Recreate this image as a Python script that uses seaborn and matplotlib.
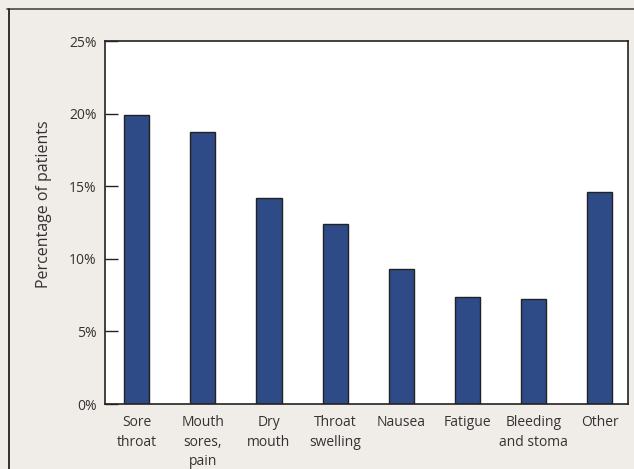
import matplotlib
matplotlib.use("Agg")
import matplotlib.pyplot as plt
from matplotlib.lines import Line2D
from matplotlib.ticker import FuncFormatter
import pandas as pd
import seaborn as sns

categories = ["Sore\nthroat", "Mouth\nsores,\npain", "Dry\nmouth", "Throat\nswelling",
              "Nausea", "Fatigue", "Bleeding\nand stoma", "Other"]
percent_patients = [19.9, 18.7, 14.2, 12.4, 9.3, 7.4, 7.2, 14.6]
y_ticks = [0, 5, 10, 15, 20, 25]

sns.set_theme(style="white")
plt.rcParams["font.family"] = ["Open Sans", "DejaVu Sans"]

text_color = "#333333"
bg_color = "#F0EDE8"
bar_color = "#2E4A87"

df = pd.DataFrame({"symptom": categories, "pct": percent_patients})

fig = plt.figure(figsize=(6.34, 4.69), dpi=100, facecolor=bg_color)
ax = fig.add_axes([105 / 634, 1 - 404 / 469, 523 / 634, 363 / 469])
ax.set_facecolor("white")

sns.barplot(data=df, x="symptom", y="pct", color=bar_color, width=0.38,
            edgecolor="#222222", linewidth=1.0, saturation=1, ax=ax)

ax.set_ylim(0, 25)
ax.set_xlim(-0.48, 7.43)
ax.set_yticks(y_ticks)
ax.yaxis.set_major_formatter(FuncFormatter(lambda v, _: f"{v:.0f}%"))
ax.tick_params(axis="y", direction="in", length=9, width=1.0, color="#222222",
               labelsize=10, labelcolor=text_color, pad=6, left=True)
ax.tick_params(axis="x", length=0, labelsize=10, labelcolor=text_color, pad=8)
for lbl in ax.get_xticklabels():
    lbl.set_linespacing(1.4)
    lbl.set_verticalalignment("top")

ax.set_xlabel("")
ax.set_ylabel("Percentage of patients", fontsize=11.5, color=text_color)
ax.yaxis.set_label_coords(-0.101, 0.551)

for side in ["left", "right", "top", "bottom"]:
    ax.spines[side].set_visible(True)
    ax.spines[side].set_color("#222222")
    ax.spines[side].set_linewidth(1.2)

# outer panel frame along the top and left edges
fig.add_artist(Line2D([7 / 634, 1], [1 - 9 / 469, 1 - 9 / 469],
                      transform=fig.transFigure, color="#555555", linewidth=1.3))
fig.add_artist(Line2D([9 / 634, 9 / 634], [0, 1 - 9 / 469],
                      transform=fig.transFigure, color="#222222", linewidth=1.3))

fig.savefig("out.png", dpi=100, facecolor=bg_color)
